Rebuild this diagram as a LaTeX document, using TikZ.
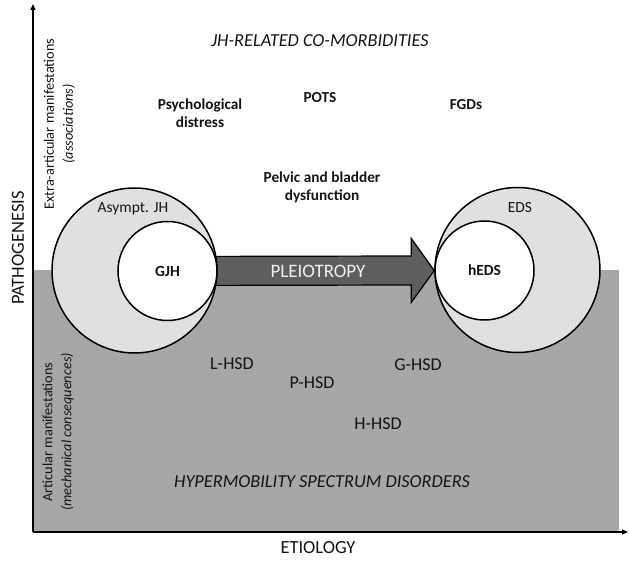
\documentclass[tikz,border=0pt]{standalone}
\usepackage{fontspec}
\setmainfont{Carlito}
\usepackage{tikz}
\usetikzlibrary{arrows.meta,calc,backgrounds}

\definecolor{hsdgray}{HTML}{A7A7A7}
\definecolor{ringgray}{HTML}{E0E0E0}
\definecolor{pleiogray}{HTML}{5E5E5E}
\definecolor{inkgray}{HTML}{141414}

\tikzset{
  axis/.style={line width=1.4pt, -{Triangle[length=6pt,width=5pt]}},
  ring/.style={draw, circle, line width=1.5pt, fill=ringgray, inner sep=0pt, minimum size=165pt},
  core/.style={draw, circle, line width=1.5pt, fill=white, inner sep=0pt, minimum size=99pt,
    font=\fontsize{15.5}{17}\selectfont\bfseries, text=inkgray},
  pleio/.style={draw, line width=1.2pt, fill=pleiogray},
  lbl/.style={font=\fontsize{15.3}{18}\selectfont\bfseries, align=center, text=inkgray},
  ringlbl/.style={font=\fontsize{15.5}{17}\selectfont, text=inkgray},
  hsd/.style={font=\fontsize{18}{20}\selectfont, text=inkgray},
  heading/.style={font=\fontsize{18.3}{20}\selectfont\itshape, text=inkgray},
  axislbl/.style={font=\fontsize{18.5}{20}\selectfont, text=inkgray},
  side/.style={font=\fontsize{14.3}{19}\selectfont, rotate=90, align=center, text=inkgray}
}

\begin{document}
\begin{tikzpicture}[x=1pt, y=-1pt]
        \useasboundingbox (0,0) rectangle (630,561);

        \coordinate (o) at (33,532);
        \coordinate (ytop) at (33,4);
        \coordinate (xend) at (628,532);

        \node[ring] (ajh) at (134.5,270.5) {};
        \node[ring] (eds) at (517.5,270) {};
        \node[core] (gjh) at (167.5,271) {GJH};
        \node[core] (heds) at (484.5,270.5) {hEDS};

        \begin{scope}[on background layer]
        \fill[hsdgray] (33,270) rectangle (619,532);
        \draw[pleio] ($(gjh.center)+(0,-14.5)$) -- ($(heds.west)+(-23,-14.5)$)
            -- ($(heds.west)+(-23,-32)$) -- (heds.west) -- ($(heds.west)+(-23,32)$)
            -- ($(heds.west)+(-23,14.5)$) -- ($(gjh.center)+(0,14.5)$) -- cycle;
        \end{scope}

        \node[font=\fontsize{19}{21}\selectfont, text=white!94!black] (pl) at (318,271) {PLEIOTROPY};

        \node[ringlbl] (ajhlbl) at (133,209) {Asympt. JH};
        \node[ringlbl] (edslbl) at (520,208) {EDS};

        \node[heading] (jhrel) at (320,41) {JH-RELATED CO-MORBIDITIES};
        \node[lbl] (psy) at (200,113) {Psychological\\distress};
        \node[lbl] (pots) at (320,98) {POTS};
        \node[lbl] (fgd) at (466,105) {FGDs};
        \node[lbl] (pelvic) at (322,187) {Pelvic and bladder\\dysfunction};

        \node[hsd] (lhsd) at (232,364) {L-HSD};
        \node[hsd] (phsd) at (312,383) {P-HSD};
        \node[hsd] (ghsd) at (418,365) {G-HSD};
        \node[hsd] (hhsd) at (378,424) {H-HSD};
        \node[heading] (hsdall) at (322,482) {HYPERMOBILITY SPECTRUM DISORDERS};

        \node[side] (extra) at (59.5,124) {Extra-articular manifestations\\\textit{(associations)}};
        \node[side] (artic) at (58,432) {Articular manifestations\\\textit{(mechanical consequences)}};

        \draw[axis] (o) -- (ytop);
        \draw[axis] (o) -- (xend);
        \node[axislbl, rotate=90] (patho) at (18,248) {PATHOGENESIS};
        \node[axislbl] (etio) at (318,548) {ETIOLOGY};
    \end{tikzpicture}
\end{document}
